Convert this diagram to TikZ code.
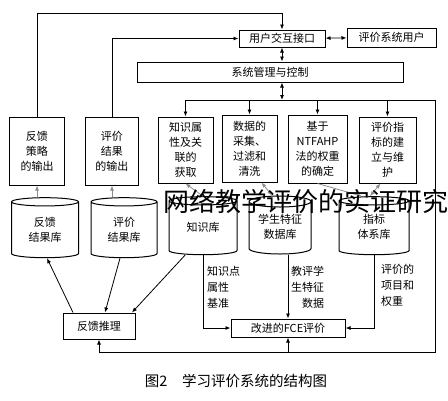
\documentclass[tikz,border=0pt]{standalone}
\usepackage{fontspec}
\setmainfont{Noto Sans CJK SC}
\usetikzlibrary{positioning,arrows.meta,shapes.geometric}

\begin{document}
\begin{tikzpicture}[x=1pt,y=-1pt,>={Latex[length=5pt,width=4pt]},
  box/.style={draw,line width=1pt,inner sep=0pt,align=center,font=\fontsize{11}{15}\selectfont},
  db/.style={cylinder,shape border rotate=90,draw,line width=1pt,aspect=0.25,inner sep=0pt,align=center,font=\fontsize{11}{15}\selectfont},
  link/.style={line width=0.8pt},
  feed/.style={line width=0.8pt,black!45},
  note/.style={inner sep=0pt,font=\fontsize{11}{16}\selectfont}]
\useasboundingbox (0,0) rectangle (448,400);

% user side
\node[box,minimum width=86pt,minimum height=17pt] (ui) at (282,38.5) {用户交互接口};
\node[box,minimum width=89pt,minimum height=19pt] (user) at (391.5,37.5) {评价系统用户};
\node[box,minimum width=266pt,minimum height=20pt] (mgmt) at (270,72) {系统管理与控制};

% modules
\node[box,minimum width=55pt,minimum height=68pt] (fbout) at (37,151) {反馈\\策略\\的输出};
\node[box,minimum width=53pt,minimum height=68pt] (evout) at (112,151) {评价\\结果\\的输出};
\node[box,minimum width=55pt,minimum height=66pt] (know) at (185.5,150) {知识属\\性及关\\联的\\获取};
\node[box,minimum width=55pt,minimum height=67pt] (data) at (249.5,148.5) {数据的\\采集、\\过滤和\\清洗};
\node[box,minimum width=59pt,minimum height=68pt] (ntf) at (317.5,149) {基于\\NTFAHP\\法的权重\\的确定};
\node[box,minimum width=57pt,minimum height=66pt] (idx) at (387.5,150) {评价指\\标的建\\立与维\\护};

% databases
\node[db,minimum width=67pt,minimum height=60pt] (fbres) at (45,230) {反馈\\结果库};
\node[db,minimum width=66pt,minimum height=60pt] (evres) at (124,230) {评价\\结果库};
\node[db,minimum width=68pt,minimum height=58pt] (kdb) at (203,228) {\raisebox{2pt}{知识库}};
\node[db,minimum width=62pt,minimum height=58pt] (sdb) at (280,228) {\raisebox{-6pt}{\begin{tabular}{@{}c@{}}学生特征\\数据库\end{tabular}}};
\node[db,minimum width=70pt,minimum height=58pt] (idb) at (374,228) {\raisebox{-6pt}{\begin{tabular}{@{}c@{}}指标\\体系库\end{tabular}}};

% evaluation
\node[box,minimum width=72pt,minimum height=26pt] (fbinf) at (99,326) {反馈推理};
\node[box,minimum width=114pt,minimum height=18pt] (fce) at (288,328) {改进的FCE评价};

\node[note,anchor=north west,align=left] (lk) at (207,266) {知识点\\属性\\基准};
\node[note,anchor=north west,align=right] (ls) at (291,266) {教评学\\生特征\\数据};
\node[note,anchor=north west,align=left] (li) at (381,264) {评价的\\项目和\\权重};

% top lines
\coordinate (top) at (0,13);
\coordinate (busR) at (435,100);
\coordinate (botR) at (435,352);
\draw[link,->] (fbout.north) |- (top -| ui.north) -- (ui.north);
\draw[link,->] (evout.north) |- (ui.west);
\draw[link,<->] (ui) -- (user);
\draw[link,<->] (ui.south) -- (ui.south |- mgmt.north);
\draw[link,<->] (ui.south |- mgmt.south) -- (ui.south |- busR);
\draw[link] (know.north |- busR) -- (busR) -- (botR) -- (botR -| fbinf.south);
\foreach \n in {know,data,ntf,idx}
  \draw[link,->] (\n.north |- busR) -- (\n.north);
\draw[link,->] (botR -| fbinf.south) -- (fbinf.south);
\draw[link,->] (botR -| fce.south) -- (fce.south);

% databases and modules
\draw[feed,->] (fbout.south |- fbres.north) -- (fbout.south);
\draw[feed,->] (evout.south |- evres.north) -- (evout.south);
\draw[feed,->] (kdb.north) -- (know.south);
\draw[feed,<->] ([xshift=-8pt]sdb.north) -- ([xshift=12pt]data.south);
\draw[feed,->] (ntf.south) -- ([xshift=-12pt]idb.north);
\draw[feed,<->] ([xshift=-4pt]idb.north) -- ([xshift=-7pt]idx.south);

% feedback reasoning
\draw[link,->] ([xshift=-26pt]fbinf.north) -- ([xshift=2pt]fbres.south);
\draw[link,->] ([xshift=-4pt]evres.south) -- ([xshift=6pt]fbinf.north);
\draw[link,->] ([xshift=-18pt]kdb.south) -- ([xshift=33pt]fbinf.north);

% inputs of the FCE evaluation
\draw[link,->] (kdb.south) |- (fce.west);
\draw[link,->] (sdb.south -| fce.north) -- (fce.north);
\draw[link,->] (idb.south) |- (fce.east);

\node (cap) at (236,381) {\fontsize{14.5}{15}\selectfont 图2\quad 学习评价系统的结构图};
\node (wm) at (306,202) {\fontsize{26}{26}\selectfont 网络教学评价的实证研究};
\end{tikzpicture}
\end{document}
